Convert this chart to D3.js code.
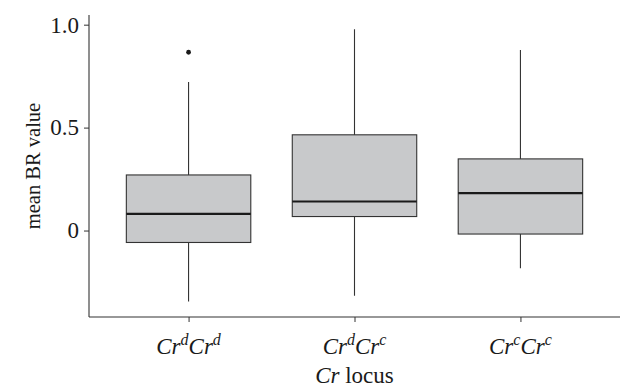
<!DOCTYPE html>
<html>
<head>
<meta charset="utf-8">
<script src="https://cdn.jsdelivr.net/npm/d3@7"></script>
<style>
  body { margin: 0; background: #fff; }
  svg { display: block; font-family: "Liberation Serif", "DejaVu Serif", serif; }
</style>
</head>
<body>
<svg width="625" height="392"></svg>
<script>
(() => {
    // genotype at the Cr locus, base letter + superscript pairs
    const genotypes = [["d", "d"], ["d", "c"], ["c", "c"]];
    const categories = ["CrdCrd", "CrdCrc", "CrcCrc"];
    const whiskerLow = [-0.345, -0.317, -0.183];
    const q1 = [-0.058, 0.068, -0.017];
    const median = [0.081, 0.141, 0.182];
    const q3 = [0.270, 0.465, 0.348];
    const whiskerHigh = [0.722, 0.978, 0.877];
    const outliers = [[0.866], [], []];
    const yTicks = [0, 0.5, 1.0];

    let svg = d3.select("svg"),
        left = 89, right = 620, top = 15, bottom = 317;

    let x = d3.scalePoint()
        .domain(categories)
        .range([left, right])
        .padding(0.6);
    let y = d3.scaleLinear()
        .domain([-0.42, 1.047])
        .range([bottom, top]);
    let boxW = x.step() * 0.75;

    let rows = categories.map((c, i) => ({
        cat: c, lo: whiskerLow[i], q1: q1[i], med: median[i],
        q3: q3[i], hi: whiskerHigh[i], out: outliers[i]
    }));

    let g = svg.append("g");
    // whiskers
    g.selectAll(".whisk")
        .data(rows)
        .join("line")
        .attr("x1", d => x(d.cat)).attr("x2", d => x(d.cat))
        .attr("y1", d => y(d.lo)).attr("y2", d => y(d.hi))
        .attr("stroke", "#333").attr("stroke-width", 1.1);
    // boxes
    g.selectAll(".box")
        .data(rows)
        .join("rect")
        .attr("x", d => x(d.cat) - boxW / 2)
        .attr("width", boxW)
        .attr("y", d => y(d.q3))
        .attr("height", d => y(d.q1) - y(d.q3))
        .attr("fill", "#c8c9cb")
        .attr("stroke", "#333").attr("stroke-width", 1.1);
    // medians
    g.selectAll(".med")
        .data(rows)
        .join("line")
        .attr("x1", d => x(d.cat) - boxW / 2).attr("x2", d => x(d.cat) + boxW / 2)
        .attr("y1", d => y(d.med)).attr("y2", d => y(d.med))
        .attr("stroke", "#1a1a1a").attr("stroke-width", 2.2);
    // outliers
    g.selectAll(".out")
        .data(rows.flatMap(d => d.out.map(v => ({ cat: d.cat, v }))))
        .join("circle")
        .attr("cx", d => x(d.cat)).attr("cy", d => y(d.v))
        .attr("r", 2.4).attr("fill", "#1a1a1a");

    // y axis
    let yAxis = svg.append("g")
        .attr("transform", `translate(${left},0)`)
        .call(d3.axisLeft(y).tickValues(yTicks).tickSizeInner(5).tickSizeOuter(0)
            .tickPadding(5).tickFormat(d => d === 0 ? "0" : d3.format(".1f")(d)));
    yAxis.select(".domain").remove();
    yAxis.selectAll("line").attr("stroke", "#333");
    yAxis.selectAll("text").attr("font-size", 23).attr("fill", "#1a1a1a")
        .attr("font-family", "Liberation Serif");
    svg.append("line")
        .attr("x1", left).attr("x2", left).attr("y1", top).attr("y2", bottom)
        .attr("stroke", "#333").attr("stroke-width", 1.1);

    // x axis
    let xAxis = svg.append("g")
        .attr("transform", `translate(0,${bottom})`)
        .call(d3.axisBottom(x).tickSizeInner(5).tickSizeOuter(0).tickFormat(""));
    xAxis.select(".domain").remove();
    xAxis.selectAll("line").attr("stroke", "#333");
    svg.append("line")
        .attr("x1", left).attr("x2", right).attr("y1", bottom).attr("y2", bottom)
        .attr("stroke", "#333").attr("stroke-width", 1.1);

    // genotype labels with superscripts
    let labs = svg.selectAll(".xlab")
        .data(categories)
        .join("text")
        .attr("x", d => x(d)).attr("y", 354)
        .attr("text-anchor", "middle")
        .attr("font-size", 23).attr("font-style", "italic").attr("fill", "#1a1a1a");
    labs.each(function (d, i) {
        let t = d3.select(this);
        genotypes[i].forEach((s, k) => {
            t.append("tspan").attr("dy", k ? 9 : 0).text("Cr");
            t.append("tspan").attr("dy", -9).attr("font-size", 16).text(s);
        });
    });

    // axis titles
    let xt = svg.append("text")
        .attr("x", (left + right) / 2).attr("y", 383)
        .attr("text-anchor", "middle").attr("font-size", 23).attr("fill", "#1a1a1a");
    xt.append("tspan").attr("font-style", "italic").text("Cr");
    xt.append("tspan").text(" locus");

    svg.append("text")
        .attr("transform", `translate(40,${(top + bottom) / 2}) rotate(-90)`)
        .attr("text-anchor", "middle").attr("font-size", 20.5).attr("fill", "#1a1a1a")
        .text("mean BR value");
})();
</script>
</body>
</html>
